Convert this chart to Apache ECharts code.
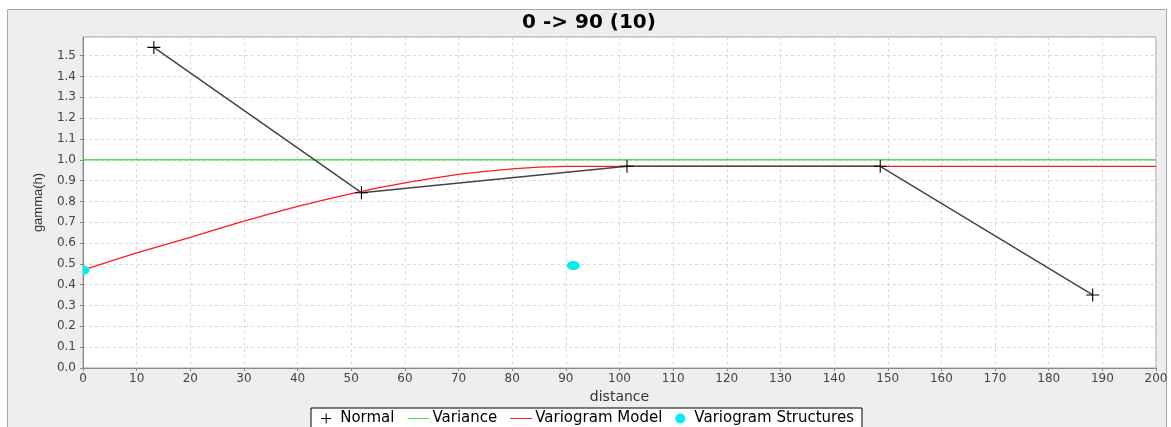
<!DOCTYPE html>
<html>
<head>
<meta charset="utf-8">
<script src="https://cdn.jsdelivr.net/npm/echarts@6/dist/echarts.min.js"></script>
<style>
html,body{margin:0;padding:0;background:#fff;}
#chart{width:1171px;height:427px;}
</style>
</head>
<body>
<div id="chart"></div>
<script>
// ---- data ----
const chartTitle = '0 -> 90 (10)';
const normalX = [13.2, 51.9, 101.4, 148.6, 188.2];
const normalY = [1.540, 0.842, 0.969, 0.969, 0.351];
const varianceX = [0, 200];
const varianceY = [1.0, 1.0];
const modelX = [0, 5, 10, 15, 20, 25, 30, 35, 40, 45, 50, 55, 60, 65, 70, 75, 80, 85, 90, 200];
const modelY = [0.470, 0.512, 0.553, 0.590, 0.627, 0.667, 0.706, 0.742, 0.776, 0.808, 0.838, 0.865, 0.889, 0.911, 0.930, 0.945, 0.957, 0.965, 0.969, 0.969];
const structX = [0, 91.4];
const structY = [0.470, 0.492];
const legendNames = ['Normal', 'Variance', 'Variogram Model', 'Variogram Structures'];

const zip = (xs, ys) => xs.map((x, i) => [x, ys[i]]);

const chart = echarts.init(document.getElementById('chart'), null, {renderer: 'canvas'});
const plusIcon = 'path://M0,0L0.01,0Z M22,10L21.99,10Z M5,4.4H17V5.6H5Z M10.4,-1H11.6V11H10.4Z';
const lineIcon = 'path://M0,0L0.01,0Z M22,10L21.99,10Z M0,4.5H22V5.5H0Z';
const plusSymbol = 'path://M0,5.5H12V6.5H0Z M5.5,0H6.5V12H5.5Z';
const tickFont = {fontFamily: 'DejaVu Sans', fontSize: 12, color: '#444'};

chart.setOption({
  animation: false,
  backgroundColor: '#ffffff',
  graphic: [{
    type: 'rect', z: -10, silent: true,
    shape: {x: 7.5, y: 9.5, width: 1159, height: 430},
    style: {fill: '#eeeeee', stroke: '#a8a8a8', lineWidth: 1}
  }],
  title: {
    text: chartTitle, left: 589, textAlign: 'center', top: 13, padding: 0,
    textStyle: {fontFamily: 'DejaVu Sans', fontWeight: 'bold', fontSize: 20, color: '#000'}
  },
  grid: {
    left: 83, right: 15, top: 37, height: 331,
    show: true, backgroundColor: '#ffffff', borderColor: '#a0a0a0', borderWidth: 1
  },
  legend: {
    data: [
      {name: legendNames[0], icon: plusIcon},
      {name: legendNames[1], icon: lineIcon},
      {name: legendNames[2], icon: lineIcon},
      {name: legendNames[3], icon: 'circle'}
    ],
    left: 'center', top: 408, padding: [3, 8, 8, 6],
    itemGap: 13, itemWidth: 22, itemHeight: 10,
    backgroundColor: '#ffffff', borderColor: '#000', borderWidth: 1, borderRadius: 0,
    textStyle: {fontFamily: 'DejaVu Sans', fontSize: 15, color: '#000', padding: [0, 0, 0, -2]}
  },
  xAxis: {
    type: 'value', min: 0, max: 200, interval: 10,
    name: 'distance', nameLocation: 'middle', nameGap: 21,
    nameTextStyle: {fontFamily: 'DejaVu Sans', fontSize: 14, color: '#333'},
    axisLine: {show: true, lineStyle: {color: '#888', width: 1}},
    axisTick: {show: true, length: 3, lineStyle: {color: '#888'}},
    axisLabel: Object.assign({margin: 5}, tickFont),
    splitLine: {show: true, lineStyle: {color: '#d8d8d8', type: [3, 3], width: 1}}
  },
  yAxis: {
    type: 'value', min: 0, max: 1.59, interval: 0.1,
    name: 'gamma(h)', nameLocation: 'middle', nameGap: 38, nameRotate: 90,
    nameTextStyle: {fontFamily: 'Liberation Sans', fontSize: 13, color: '#333'},
    axisLine: {show: true, lineStyle: {color: '#888', width: 1}},
    axisTick: {show: true, length: 3, lineStyle: {color: '#888'}},
    axisLabel: Object.assign({margin: 7, showMaxLabel: false, formatter: v => v.toFixed(1)}, tickFont),
    splitLine: {show: true, lineStyle: {color: '#d8d8d8', type: [3, 3], width: 1}}
  },
  series: [
    {
      name: legendNames[0], type: 'line', data: zip(normalX, normalY),
      symbol: plusSymbol, symbolSize: 13, showSymbol: true,
      itemStyle: {color: '#000'},
      lineStyle: {color: '#444', width: 1.5}, z: 5
    },
    {
      name: legendNames[1], type: 'line', data: zip(varianceX, varianceY),
      symbol: 'none', itemStyle: {color: '#55e055'},
      lineStyle: {color: '#55e055', width: 1.5}, z: 3
    },
    {
      name: legendNames[2], type: 'line', data: zip(modelX, modelY),
      symbol: 'none', itemStyle: {color: '#ff1a1a'},
      lineStyle: {color: '#ff1a1a', width: 1.3}, z: 4
    },
    {
      name: legendNames[3], type: 'custom', data: zip(structX, structY),
      clip: true, itemStyle: {color: '#00f0f0'}, z: 6,
      renderItem: (params, api) => {
        const p = api.coord([api.value(0), api.value(1)]);
        const cs = params.coordSys;
        return {
          type: 'group',
          clipPath: {type: 'rect', shape: {x: cs.x, y: cs.y, width: cs.width, height: cs.height}},
          children: [{type: 'ellipse', shape: {cx: p[0], cy: p[1], rx: 6.5, ry: 4.5},
                      style: {fill: '#00f0f0'}}]
        };
      }
    }
  ]
});
</script>
</body>
</html>
